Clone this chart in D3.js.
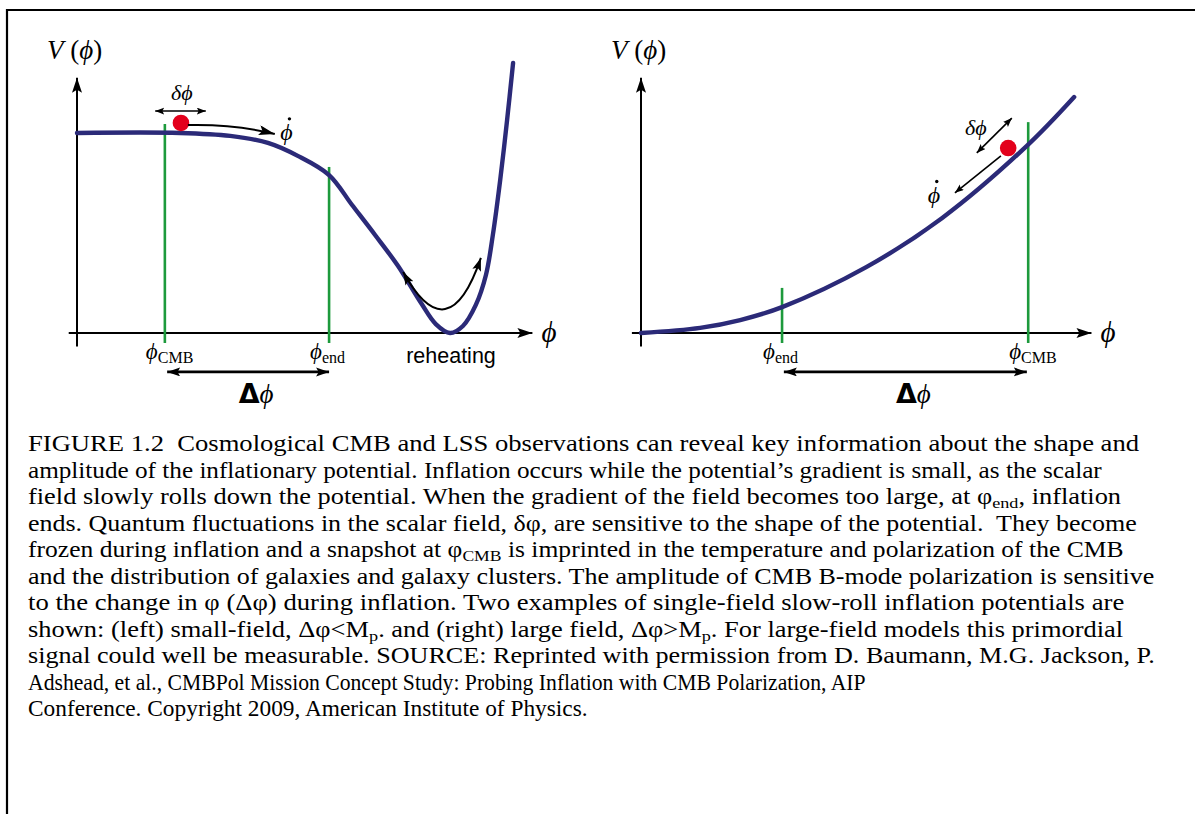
<!DOCTYPE html>
<html><head><meta charset="utf-8">
<script src="https://cdn.jsdelivr.net/npm/d3@7"></script>
<style>body{margin:0;background:#fff} svg{display:block}</style>
</head><body>
<svg id="fig" width="1195" height="814"></svg>
<script>
// ---- Data (arbitrary units, 0..100) ----
// Left panel: small-field potential
const leftPhi = [0, 22.4, 33.3, 41.5, 48, 54.8, 59.8, 64.8, 69.8, 74.8, 78, 81.1, 83.9, 86.7, 88.9, 90.4, 92, 93.5, 94.8];
const leftV   = [74.1, 74.1, 73, 70.4, 65.6, 58.5, 47.4, 36.3, 24.8, 11.1, 3.3, 0, 2.6, 10.4, 21.5, 36.3, 56.7, 78.9, 100];
// Right panel: large-field potential
const rightPhi = [0, 13, 21.8, 31, 49.5, 66.2, 84.8, 95.2];
const rightV   = [0, 1.9, 4.8, 9.6, 24.4, 42.6, 69.3, 87.4];
// Vertical markers (phi position, top of line)
const leftMarkers  = [{name:"CMB", phi:19.1, top:77.4}, {name:"end", phi:54.8, top:61.5}];
const rightMarkers = [{name:"end", phi:31, top:16.7}, {name:"CMB", phi:85.1, top:78.1}];
// Field ball
const leftBall  = {phi:22.6, V:77.8};
const rightBall = {phi:80.7, V:68.5};

const caption = [
  [["FIGURE 1.2  Cosmological CMB and LSS observations can reveal key information about the shape and"]],
  [["amplitude of the inflationary potential. Inflation occurs while the potential\u2019s gradient is small, as the scalar"]],
  [["field slowly rolls down the potential. When the gradient of the field becomes too large, at \u03c6"],["end",1],[", inflation"]],
  [["ends. Quantum fluctuations in the scalar field, \u03b4\u03c6, are sensitive to the shape of the potential.  They become"]],
  [["frozen during inflation and a snapshot at \u03c6"],["CMB",1],[" is imprinted in the temperature and polarization of the CMB"]],
  [["and the distribution of galaxies and galaxy clusters. The amplitude of CMB B-mode polarization is sensitive"]],
  [["to the change in \u03c6 (\u0394\u03c6) during inflation. Two examples of single-field slow-roll inflation potentials are"]],
  [["shown: (left) small-field, \u0394\u03c6<M"],["p",1],[". and (right) large field, \u0394\u03c6>M"],["p",1],[". For large-field models this primordial"]],
  [["signal could well be measurable. SOURCE: Reprinted with permission from D. Baumann, M.G. Jackson, P."]],
  [["Adshead, et al., CMBPol Mission Concept Study: Probing Inflation with CMB Polarization, AIP"]],
  [["Conference. Copyright 2009, American Institute of Physics."]]
];
// right end of each caption line in the picture (layout)
const captionEnds = [1140, 1103, 1122, 1137, 1124, 1155, 1125, 1124, 1155, 866, 588];

const svg = d3.select("#fig");
const PHI = "\u03d5";
const CURVE = "#2b2a78", GREEN = "#1d9a3c", RED = "#e3001b";
const MATH = "'Liberation Serif','DejaVu Serif',serif";

// border
svg.append("path").attr("d","M7,814V10H1195").attr("fill","none").attr("stroke","#000").attr("stroke-width",2.2);

const defs = svg.append("defs");
function marker(id, len, w) {
  defs.append("marker").attr("id", id).attr("markerUnits","userSpaceOnUse")
    .attr("markerWidth", len+1).attr("markerHeight", w+1)
    .attr("refX", len).attr("refY", w/2).attr("orient","auto-start-reverse")
    .attr("viewBox", `0 0 ${len+1} ${w+1}`)
    .append("path").attr("d", `M0,0L${len},${w/2}L0,${w}L${len*0.2},${w/2}Z`).attr("fill","#000");
}
marker("axis", 15, 10);
marker("big", 16, 10);
marker("small", 9, 7);
marker("mid", 13, 9);

// phi with a time-derivative dot
function phiDot(g, x, y, size) {
  g.append("text").attr("x", x).attr("y", y).attr("font-family", MATH).attr("font-size", size)
    .attr("font-style","italic").text(PHI);
  g.append("circle").attr("cx", x + size*0.38).attr("cy", y - size*0.88).attr("r", 1.7).attr("fill","#000");
}

function panel(cfg) {
  const x = d3.scaleLinear().domain([0,100]).range(cfg.xr);
  const y = d3.scaleLinear().domain([0,100]).range([333, 63]);
  const g = svg.append("g");
  // axes
  g.append("line").attr("x1", x(cfg.xAxisStart)).attr("x2", x(cfg.xAxisEnd)).attr("y1", y(0)).attr("y2", y(0))
    .attr("stroke","#000").attr("stroke-width",2).attr("marker-end","url(#axis)");
  g.append("line").attr("x1", x(0)).attr("x2", x(0)).attr("y1", y(-5)).attr("y2", y(94.5))
    .attr("stroke","#000").attr("stroke-width",2).attr("marker-end","url(#axis)");
  // green markers
  g.selectAll(".mk").data(cfg.markers).join("line")
    .attr("x1", d=>x(d.phi)).attr("x2", d=>x(d.phi)).attr("y1", d=>y(d.top)).attr("y2", y(-3.7))
    .attr("stroke", GREEN).attr("stroke-width", 2.6);
  // potential curve
  const data = cfg.phi.map((p,i)=>[p, cfg.V[i]]);
  g.append("path").datum(data)
    .attr("d", d3.line().x(d=>x(d[0])).y(d=>y(d[1])).curve(d3.curveCatmullRom.alpha(0.5)))
    .attr("fill","none").attr("stroke", CURVE).attr("stroke-width", 4.4).attr("stroke-linecap","round");
  // ball
  g.append("circle").attr("cx", x(cfg.ball.phi)).attr("cy", y(cfg.ball.V)).attr("r", 8.3).attr("fill", RED);
  // V(phi) label
  const vt = g.append("text").attr("x", cfg.vx).attr("y", 59).attr("font-family", MATH).attr("font-size", 27);
  vt.append("tspan").attr("font-style","italic").text("V");
  vt.append("tspan").text(" (");
  vt.append("tspan").attr("font-style","italic").text(PHI);
  vt.append("tspan").text(")");
  // phi axis label
  g.append("text").attr("x", x(cfg.xAxisEnd)+9).attr("y", 342).attr("font-family", MATH)
    .attr("font-style","italic").attr("font-size", 29).text(PHI);
  // marker labels
  cfg.markers.forEach(m => {
    const t = g.append("text").attr("x", x(m.phi) - 19).attr("y", 359).attr("font-family", MATH);
    t.append("tspan").attr("font-style","italic").attr("font-size", 23).text(PHI);
    t.append("tspan").attr("font-size", 16).attr("dy", 4).text(m.name);
  });
  // Delta phi arrow
  const [a0, a1] = cfg.delta;
  g.append("line").attr("x1", x(a0)).attr("x2", x(a1)).attr("y1", y(-14.4)).attr("y2", y(-14.4))
    .attr("stroke","#000").attr("stroke-width",2.6)
    .attr("marker-start","url(#mid)").attr("marker-end","url(#mid)");
  const dt = g.append("text").attr("x", x((a0+a1)/2) + 8).attr("y", y(-26)).attr("text-anchor","middle").attr("font-size", 27);
  dt.append("tspan").attr("font-family","'DejaVu Sans',sans-serif").attr("font-weight","bold").text("\u0394");
  dt.append("tspan").attr("font-family", MATH).attr("font-style","italic").text(PHI);
  return {x, y, g};
}

// ---- Left panel ----
const L = panel({xr:[77, 537], phi:leftPhi, V:leftV, markers:leftMarkers, ball:leftBall,
  xAxisStart:-1.8, xAxisEnd:99, vx:47, delta:[19.6, 54.8]});
// delta phi (fluctuation) double arrow
L.g.append("line").attr("x1", L.x(17)).attr("x2", L.x(28)).attr("y1", L.y(82.2)).attr("y2", L.y(82.2))
  .attr("stroke","#000").attr("stroke-width",1.6).attr("marker-start","url(#small)").attr("marker-end","url(#small)");
L.g.append("text").attr("x", L.x(22.8)).attr("y", L.y(86.3)).attr("text-anchor","middle")
  .attr("font-family", MATH).attr("font-style","italic").attr("font-size", 22).text("\u03b4" + PHI);
// rolling arrow
L.g.append("path").attr("d", `M${L.x(24.1)},${L.y(77)}Q${L.x(34.3)},${L.y(77.4)} ${L.x(43)},${L.y(73.7)}`)
  .attr("fill","none").attr("stroke","#000").attr("stroke-width",2).attr("marker-end","url(#big)");
phiDot(L.g, L.x(44.2), L.y(71.5), 24);
// reheating oscillation arrow
L.g.append("path").attr("d", `M${L.x(70.9)},${L.y(22.6)}Q${L.x(80.7)},${L.y(-7.5)} ${L.x(87.8)},${L.y(27.8)}`)
  .attr("fill","none").attr("stroke","#000").attr("stroke-width",2).attr("marker-start","url(#mid)").attr("marker-end","url(#mid)");
L.g.append("text").attr("x", L.x(81.3)).attr("y", L.y(-11.1)).attr("text-anchor","middle")
  .attr("font-family","'Liberation Sans',Arial,sans-serif").attr("font-size", 21.5).text("reheating");

// ---- Right panel ----
const R = panel({xr:[641, 1096], phi:rightPhi, V:rightV, markers:rightMarkers, ball:rightBall,
  xAxisStart:-2, xAxisEnd:99, vx:611, delta:[31.4, 84.8]});
R.g.append("line").attr("x1", R.x(73.8)).attr("x2", R.x(81.5)).attr("y1", R.y(66.7)).attr("y2", R.y(79.6))
  .attr("stroke","#000").attr("stroke-width",1.6).attr("marker-start","url(#small)").attr("marker-end","url(#small)");
R.g.append("text").attr("x", R.x(73.6)).attr("y", R.y(73.3)).attr("text-anchor","middle")
  .attr("font-family", MATH).attr("font-style","italic").attr("font-size", 22).text("\u03b4" + PHI);
R.g.append("line").attr("x1", R.x(79.1)).attr("x2", R.x(69)).attr("y1", R.y(65.6)).attr("y2", R.y(51.9))
  .attr("stroke","#000").attr("stroke-width",1.6).attr("marker-end","url(#small)");
phiDot(R.g, R.x(63), R.y(48.3), 24);

// ---- Caption ----
const cap = svg.append("g").attr("font-family","'Liberation Serif','Times New Roman',serif").attr("font-size", 22.5).attr("fill","#000");
caption.forEach((line, i) => {
  const t = cap.append("text").attr("x", 0).attr("y", 0).attr("xml:space","preserve");
  line.forEach((seg, k) => {
    const s = t.append("tspan").text(seg[0]);
    if (seg[1]) s.attr("font-size", 15.5).attr("dy", 4);
    else if (k > 0 && line[k-1][1]) s.attr("dy", -4);
  });
  const w = t.node().getBBox().width;
  const sx = (captionEnds[i] - 28) / w;
  t.attr("transform", `translate(28,${451 + i*26.5}) scale(${sx},1)`);
});
</script>
</body></html>
